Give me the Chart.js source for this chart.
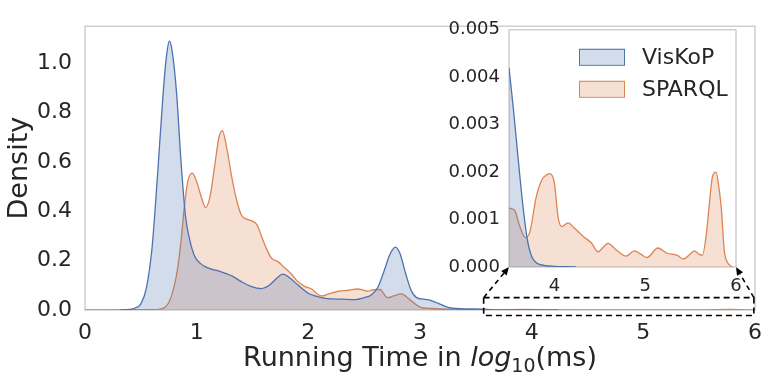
<!DOCTYPE html>
<html lang="en">
<head>
<meta charset="utf-8">
<title>Running time density</title>
<script src="https://cdn.jsdelivr.net/npm/chart.js@4.4.0/dist/chart.umd.min.js"></script>
<style>
    body { margin: 0; background: #fff; }
    #wrap { position: relative; width: 772px; height: 381px; }
    #mainChart { position: absolute; left: 0; top: 0; }
    #insetChart { position: absolute; left: 440px; top: 10px; }
</style>
</head>
<body>
<div id="wrap">
    <canvas id="mainChart" width="772" height="381"></canvas>
    <canvas id="insetChart" width="320" height="290"></canvas>
</div>

<script>
    // values
    var viskopX = [0.31, 0.40, 0.45, 0.50, 0.55, 0.60, 0.65, 0.70, 0.73, 0.756, 0.78, 0.82, 0.86, 0.90, 0.94, 0.98,
        1.03, 1.08, 1.14, 1.20, 1.26, 1.32, 1.40, 1.49, 1.58, 1.65, 1.72, 1.77, 1.82, 1.91, 2.00, 2.06, 2.14, 2.21,
        2.30, 2.42, 2.50, 2.56, 2.62, 2.68, 2.73, 2.78, 2.82, 2.87, 2.92, 2.97, 3.03, 3.10, 3.18, 3.25, 3.32, 3.40,
        3.50, 3.60, 3.70, 3.80, 4.24];
    var viskopY = [0, 0.002, 0.008, 0.025, 0.09, 0.25, 0.55, 0.88, 1.03, 1.09, 1.05, 0.88, 0.60, 0.38, 0.28, 0.22,
        0.19, 0.175, 0.165, 0.158, 0.148, 0.137, 0.115, 0.095, 0.087, 0.10, 0.13, 0.145, 0.135, 0.10, 0.068, 0.057, 0.048, 0.045,
        0.044, 0.042, 0.05, 0.06, 0.09, 0.16, 0.225, 0.255, 0.23, 0.15, 0.08, 0.05, 0.044, 0.038, 0.024, 0.011, 0.006, 0.004,
        0.0042, 0.0023, 0.0006, 0.0001, 0];

    var sparqlX = [0.00, 0.62, 0.68, 0.72, 0.76, 0.80, 0.83, 0.86, 0.89, 0.92, 0.96, 1.00, 1.04, 1.08, 1.12, 1.16,
        1.20, 1.23, 1.27, 1.31, 1.35, 1.40, 1.45, 1.50, 1.54, 1.58, 1.62, 1.67, 1.73, 1.79, 1.85, 1.90, 1.97, 2.03,
        2.08, 2.12, 2.18, 2.27, 2.36, 2.44, 2.50, 2.53, 2.58, 2.64, 2.71, 2.77, 2.83, 2.92, 3.00, 3.10, 3.30, 3.50,
        3.68, 3.95, 4.10, 4.50, 5.00, 5.50, 5.78, 5.95, 6.00];
    var sparqlY = [0, 0.001, 0.005, 0.012, 0.04, 0.10, 0.17, 0.28, 0.42, 0.52, 0.555, 0.52, 0.46, 0.415, 0.46, 0.58,
        0.70, 0.727, 0.655, 0.55, 0.46, 0.385, 0.368, 0.36, 0.345, 0.30, 0.254, 0.21, 0.195, 0.17, 0.145, 0.118, 0.095, 0.085,
        0.065, 0.057, 0.065, 0.076, 0.08, 0.085, 0.08, 0.076, 0.082, 0.083, 0.05, 0.058, 0.065, 0.038, 0.012, 0.006, 0.002, 0.0012,
        0.0006, 0.002, 0.0009, 0.0004, 0.0002, 0.0003, 0.002, 0, 0];

    // zoomed tail (inset)
    var insetViskopX = [3.50, 3.55, 3.60, 3.65, 3.70, 3.75, 3.80, 3.90, 4.00, 4.20, 4.24];
    var insetViskopY = [0.0042, 0.0033, 0.0023, 0.00135, 0.0006, 0.00022, 0.00009, 0.00003, 0.000015, 0.000003, 0];

    var insetSparqlX = [3.50, 3.56, 3.62, 3.68, 3.73, 3.80, 3.86, 3.92, 3.95, 4.00, 4.04, 4.08, 4.15, 4.22, 4.32, 4.41,
        4.48, 4.54, 4.59, 4.68, 4.79, 4.88, 4.95, 5.02, 5.14, 5.24, 5.35, 5.42, 5.50, 5.54, 5.60, 5.63, 5.67, 5.71,
        5.74, 5.78, 5.81, 5.84, 5.87, 5.90, 5.93, 5.96];
    var insetSparqlY = [0.00124, 0.0012, 0.00085, 0.00062, 0.00074, 0.00148, 0.00183, 0.00195, 0.00197, 0.00177, 0.00106, 0.00085,
        0.00093, 0.00082, 0.00064, 0.0005, 0.00032, 0.00042, 0.0005, 0.00036, 0.00023, 0.00034, 0.00027, 0.0002, 0.0004,
        0.00029, 0.00025, 0.00017, 0.00028, 0.00034, 0.00026, 0.00025, 0.00064, 0.0014, 0.0019, 0.002, 0.0017, 0.0012,
        0.00036, 0.00012, 0.00004, 0];

    var mainXTicks = [0, 1, 2, 3, 4, 5, 6];
    var mainYTicks = [0, 0.2, 0.4, 0.6, 0.8, 1.0];
    var insetXTicks = [4, 5, 6];
    var insetYTicks = [0, 0.001, 0.002, 0.003, 0.004, 0.005];

    var zoomBoxX = [3.57, 5.99];
    var zoomBoxY = [0.05, -0.022];

    var BLUE = '#4C72B0';
    var ORANGE = '#DD8452';
    var TEXT = '#262626';

    Chart.defaults.font.family = '"DejaVu Sans"';
    Chart.defaults.color = TEXT;

    function points(xs, ys) {
        return xs.map(function (x, i) {
            return { x: x, y: ys[i] };
        });
    }

    function kdeSet(label, xs, ys, colour, fill) {
        return {
            label: label,
            data: points(xs, ys),
            borderColor: colour,
            backgroundColor: fill,
            borderWidth: 1.3,
            fill: 'origin',
            pointRadius: 0,
            cubicInterpolationMode: 'monotone'
        };
    }

    // light grey box round the plotting area
    var frame = {
        id: 'frame',
        beforeDatasetsDraw: function (chart) {
            var a = chart.chartArea, c = chart.ctx;
            c.save();
            c.strokeStyle = '#c4c4c4';
            c.lineWidth = 1.2;
            c.strokeRect(a.left, a.top, a.right - a.left, a.bottom - a.top);
            c.restore();
        }
    };

    var insetLegend = {
        id: 'insetLegend',
        afterDraw: function (chart) {
            var a = chart.chartArea, c = chart.ctx;
            c.save();
            c.font = '22px "DejaVu Sans"';
            c.textBaseline = 'middle';
            c.textAlign = 'left';
            chart.data.datasets.forEach(function (ds, i) {
                var bx = a.right - 157, by = a.top + 19 + i * 32;
                c.fillStyle = ds.backgroundColor;
                c.fillRect(bx, by, 45, 16);
                c.strokeStyle = ds.borderColor;
                c.lineWidth = 1;
                c.strokeRect(bx + 0.5, by + 0.5, 45, 16);
                c.fillStyle = TEXT;
                c.fillText(ds.label, bx + 63, by + 9);
            });
            c.restore();
        }
    };

    var insetCtx = document.getElementById('insetChart').getContext('2d');
    var inset = new Chart(insetCtx, {
        type: 'line',
        data: {
            datasets: [
                kdeSet('VisKoP', insetViskopX, insetViskopY, BLUE, 'rgba(76,114,176,0.25)'),
                kdeSet('SPARQL', insetSparqlX, insetSparqlY, ORANGE, 'rgba(221,132,82,0.25)')
            ]
        },
        options: {
            responsive: false,
            animation: false,
            layout: { padding: { top: 19, right: 24, bottom: 0, left: 0 } },
            plugins: { legend: { display: false }, tooltip: { enabled: false } },
            scales: {
                x: {
                    type: 'linear', min: 3.5, max: 6,
                    grid: { display: false, drawTicks: false },
                    border: { display: false },
                    ticks: { padding: 9, font: { size: 18 }, callback: function (v) { return String(v); } },
                    afterBuildTicks: function (s) { s.ticks = insetXTicks.map(function (v) { return { value: v }; }); },
                    afterFit: function (s) { s.height = 33; }
                },
                y: {
                    min: 0, max: 0.005,
                    grid: { display: false, drawTicks: false },
                    border: { display: false },
                    ticks: { padding: 9, font: { size: 18 }, callback: function (v) { return v.toFixed(3); } },
                    afterBuildTicks: function (s) { s.ticks = insetYTicks.map(function (v) { return { value: v }; }); },
                    afterFit: function (s) { s.width = 69; }
                }
            }
        },
        plugins: [frame, insetLegend]
    });

    // x title with italic log and subscript 10
    var xTitle = {
        id: 'xTitle',
        afterDraw: function (chart) {
            var a = chart.chartArea, c = chart.ctx;
            var parts = [
                { t: 'Running Time in ', f: '27px "DejaVu Sans"', dy: 0 },
                { t: 'log', f: 'italic 27px "DejaVu Sans"', dy: 0 },
                { t: '10', f: '19px "DejaVu Sans"', dy: 6 },
                { t: '(ms)', f: '27px "DejaVu Sans"', dy: 0 }
            ];
            c.save();
            c.fillStyle = TEXT;
            c.textBaseline = 'alphabetic';
            c.textAlign = 'left';
            var total = 0;
            parts.forEach(function (p) { c.font = p.f; p.w = c.measureText(p.t).width; total += p.w; });
            var x = (a.left + a.right) / 2 - total / 2;
            var y = a.bottom + 56;
            parts.forEach(function (p) {
                c.font = p.f;
                c.fillText(p.t, x, y + p.dy);
                x += p.w;
            });
            c.restore();
        }
    };

    function arrow(c, x0, y0, x1, y1) {
        var ang = Math.atan2(y1 - y0, x1 - x0);
        var len = 8, hw = 3.5;
        var bx = x1 - len * Math.cos(ang), by = y1 - len * Math.sin(ang);
        c.setLineDash([5, 4]);
        c.beginPath();
        c.moveTo(x0, y0);
        c.lineTo(bx, by);
        c.stroke();
        c.setLineDash([]);
        c.beginPath();
        c.moveTo(x1, y1);
        c.lineTo(bx + hw * Math.sin(ang), by - hw * Math.cos(ang));
        c.lineTo(bx - hw * Math.sin(ang), by + hw * Math.cos(ang));
        c.closePath();
        c.fill();
    }

    // dashed zoom box and arrows to the inset corners
    var zoomMark = {
        id: 'zoomMark',
        afterDraw: function (chart) {
            var c = chart.ctx, xs = chart.scales.x, ys = chart.scales.y;
            var l = xs.getPixelForValue(zoomBoxX[0]), r = xs.getPixelForValue(zoomBoxX[1]);
            var t = ys.getPixelForValue(zoomBoxY[0]), b = ys.getPixelForValue(zoomBoxY[1]);
            var cv = document.getElementById('insetChart');
            var ia = inset.chartArea;
            var il = cv.offsetLeft + ia.left, ir = cv.offsetLeft + ia.right, ib = cv.offsetTop + ia.bottom;
            c.save();
            c.strokeStyle = '#000';
            c.fillStyle = '#000';
            c.lineWidth = 1.6;
            c.setLineDash([6, 4]);
            c.strokeRect(l, t, r - l, b - t);
            arrow(c, l, t, il, ib);
            arrow(c, r, t, ir, ib);
            c.restore();
        }
    };

    var ctx = document.getElementById('mainChart').getContext('2d');
    var chart = new Chart(ctx, {
        type: 'line',
        data: {
            datasets: [
                kdeSet('VisKoP', viskopX, viskopY, BLUE, 'rgba(76,114,176,0.25)'),
                kdeSet('SPARQL', sparqlX, sparqlY, ORANGE, 'rgba(221,132,82,0.25)')
            ]
        },
        options: {
            responsive: false,
            animation: false,
            layout: { padding: { top: 7, right: 10, bottom: 0, left: 0 } },
            plugins: { legend: { display: false }, tooltip: { enabled: false } },
            scales: {
                x: {
                    type: 'linear', min: 0, max: 6,
                    grid: { display: false, drawTicks: false },
                    border: { display: false },
                    ticks: { padding: 10, font: { size: 22 }, callback: function (v) { return String(v); } },
                    afterBuildTicks: function (s) { s.ticks = mainXTicks.map(function (v) { return { value: v }; }); },
                    afterFit: function (s) { s.height = 71; }
                },
                y: {
                    min: 0, max: 1.15,
                    grid: { display: false, drawTicks: false },
                    border: { display: false },
                    title: { display: true, text: 'Density', font: { size: 27 }, padding: { top: 4, bottom: 0 } },
                    ticks: { padding: 13, font: { size: 22 }, callback: function (v) { return v.toFixed(1); } },
                    afterBuildTicks: function (s) { s.ticks = mainYTicks.map(function (v) { return { value: v }; }); },
                    afterFit: function (s) { s.width = 85; }
                }
            }
        },
        plugins: [frame, xTitle, zoomMark]
    });
</script>
</body>
</html>
